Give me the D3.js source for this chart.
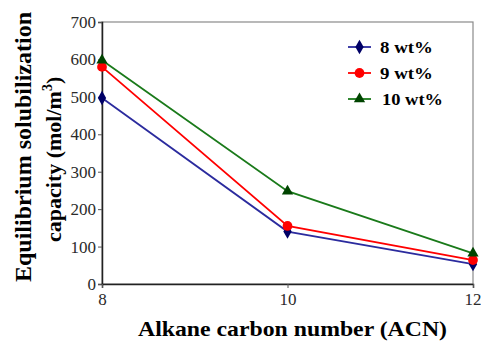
<!DOCTYPE html>
<html><head><meta charset="utf-8">
<script src="https://cdn.jsdelivr.net/npm/d3@7"></script>
<style>body{margin:0;background:#fff}svg{display:block}</style>
</head><body>
<script>
const acn = [8, 10, 12];
const seriesNames = ["8 wt%", "9 wt%", "10 wt%"];
const s8 = [497, 140, 53];
const s9 = [580, 155, 64];
const s10 = [598, 248, 82];
const yTicks = [0, 100, 200, 300, 400, 500, 600, 700];
const xTicks = [8, 10, 12];

const W = 481, H = 343;
const m = {l: 102, r: 8, t: 22, b: 59};
const svg = d3.select("body").append("svg").attr("width", W).attr("height", H);
const x = d3.scaleLinear().domain([8, 12]).range([m.l, W - m.r]);
const y = d3.scaleLinear().domain([0, 700]).range([H - m.b, m.t]);
const font = "Liberation Serif, Times New Roman, Times, DejaVu Serif, serif";

// frame
svg.append("rect").attr("x", m.l).attr("y", m.t).attr("width", W - m.r - m.l).attr("height", H - m.b - m.t)
  .attr("fill", "none").attr("stroke", "#8a8a8a").attr("stroke-width", 1.2);

const ya = svg.append("g").attr("transform", `translate(${m.l},0)`)
  .call(d3.axisLeft(y).tickValues(yTicks).tickSize(4).tickPadding(2).tickFormat(d3.format("d")));
const xa = svg.append("g").attr("transform", `translate(0,${H - m.b})`)
  .call(d3.axisBottom(x).tickValues(xTicks).tickSize(4).tickFormat(d3.format("d")));
[ya, xa].forEach(g => {
  g.attr("font-family", null).attr("font-size", null);
  g.select(".domain").attr("stroke", "#222").attr("stroke-width", 1.5);
  g.selectAll(".tick line").attr("stroke", "#555");
  g.selectAll("text").style("font-family", font).style("font-size", "17px").attr("fill", "#2a2a2a");
});
xa.selectAll("text").attr("y", 9);
xa.selectAll(".tick").filter(d => d === 12).select("text").attr("text-anchor", "end").attr("x", W - x(12));

const series = [
  {name: seriesNames[0], vals: s8, line: "#2b2b9e", mk: "#000066", shape: d3.symbolDiamond, size: 60},
  {name: seriesNames[1], vals: s9, line: "#ff0000", mk: "#ff0000", shape: d3.symbolCircle, size: 75},
  {name: seriesNames[2], vals: s10, line: "#1a7a1a", mk: "#004400", shape: d3.symbolTriangle, size: 55},
];
const line = d3.line().x((d, i) => x(acn[i])).y(d => y(d));
series.forEach(s => {
  svg.append("path").datum(s.vals).attr("d", line).attr("fill", "none")
    .attr("stroke", s.line).attr("stroke-width", 1.8);
  svg.selectAll(null).data(s.vals).enter().append("path")
    .attr("d", d3.symbol().type(s.shape).size(s.size))
    .attr("transform", (d, i) => `translate(${x(acn[i])},${y(d)})`)
    .attr("fill", s.mk);
});

// legend
const lg = svg.append("g");
const lgLens = [53, 53, 61];
series.forEach((s, i) => {
  const yy = 47 + i * 26;
  lg.append("line").attr("x1", 348).attr("x2", 371).attr("y1", yy).attr("y2", yy)
    .attr("stroke", s.line).attr("stroke-width", 1.8);
  lg.append("path").attr("d", d3.symbol().type(s.shape).size(s.size))
    .attr("transform", `translate(359.5,${yy})`).attr("fill", s.mk);
  lg.append("text").attr("x", i === 2 ? 382 : 380).attr("y", yy + 6).text(s.name)
    .style("font-family", font).style("font-size", "17px").style("font-weight", "bold")
    .attr("textLength", lgLens[i]).attr("lengthAdjust", "spacingAndGlyphs");
});

// axis titles
svg.append("text").attr("x", 138).attr("y", 336)
  .style("font-family", font).style("font-size", "21px").style("font-weight", "bold")
  .attr("textLength", 309).attr("lengthAdjust", "spacingAndGlyphs")
  .text("Alkane carbon number (ACN)");
svg.append("text").attr("transform", "translate(31,282) rotate(-90)")
  .style("font-family", font).style("font-size", "24px").style("font-weight", "bold")
  .attr("textLength", 270).attr("lengthAdjust", "spacingAndGlyphs")
  .text("Equilibrium solubilization");
const t2 = svg.append("text").attr("transform", "translate(61,242) rotate(-90)")
  .style("font-family", font).style("font-size", "22px").style("font-weight", "bold");
t2.append("tspan").text("capacity (mol/m");
t2.append("tspan").style("font-size", "14px").attr("dy", -9).text("3");
t2.append("tspan").attr("dy", 9).text(")");
</script>
</body></html>
